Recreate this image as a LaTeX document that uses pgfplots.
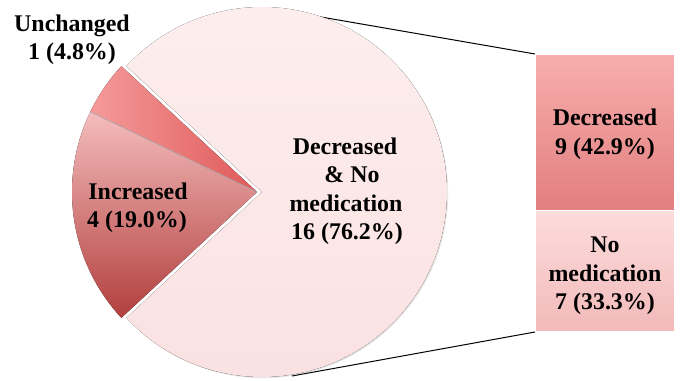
\documentclass[border=0pt]{standalone}
\usepackage{fontspec}
\setmainfont{Liberation Serif}
\usepackage{pgfplots}
\usepackage{pgfplotstable}
\pgfplotsset{compat=1.18}
\usetikzlibrary{shadows}

% pie of counts; the last slice is split in the bar on the right
\pgfplotstableread{
name count
Unchanged 1
Increased 4
DecreasedNoMed 16
}\pietable

\definecolor{bigTop}{HTML}{FDEEEE}
\definecolor{bigBot}{HTML}{FBE1E1}
\definecolor{incTop}{HTML}{F5BDBD}
\definecolor{incMid}{HTML}{E49696}
\definecolor{incBot}{HTML}{B13F3D}
\definecolor{uncOut}{HTML}{F59A9A}
\definecolor{uncIn}{HTML}{E05A5A}
\definecolor{decTop}{HTML}{F8AEAE}
\definecolor{decBot}{HTML}{E27E7E}
\definecolor{nomTop}{HTML}{FDDCDC}
\definecolor{nomBot}{HTML}{F2B9B9}

\newcommand{\lbl}{\fontsize{24}{28}\selectfont\bfseries}

\begin{document}
\begin{tikzpicture}
% slice angles from the counts
\pgfplotstablegetelem{0}{count}\of\pietable\pgfmathsetmacro\nU{\pgfplotsretval}
\pgfplotstablegetelem{1}{count}\of\pietable\pgfmathsetmacro\nI{\pgfplotsretval}
\pgfplotstablegetelem{2}{count}\of\pietable\pgfmathsetmacro\nR{\pgfplotsretval}
\pgfmathsetmacro\tot{\nU+\nI+\nR}
\pgfmathsetmacro\dg{360/\tot}
\pgfmathsetmacro\aA{180-(\nU+\nI)*\dg/2}
\pgfmathsetmacro\aB{\aA+\nU*\dg}
\pgfmathsetmacro\aC{\aB+\nI*\dg}
\pgfmathsetmacro\aD{\aC+\nR*\dg}

% stacked bar: No medication (bottom), Decreased (top)
\begin{axis}[at={(535bp,49bp)}, anchor=south west,
  width=140bp, height=278bp, scale only axis, hide axis,
  xmin=0, xmax=1, ymin=0, ymax=16, clip=false,
  ybar stacked, bar width=140bp]
\addplot[draw=white, line width=1.5pt, top color=nomTop, bottom color=nomBot]
  coordinates {(0.5,7)};
\addplot[draw=white, line width=1.5pt, top color=decTop, bottom color=decBot]
  coordinates {(0.5,9)};
\end{axis}

\begin{axis}[at={(0,0)}, anchor=south west,
  width=682bp, height=381bp, scale only axis, hide axis,
  xmin=0, xmax=682, ymin=0, ymax=381, clip=false]

% connector lines to the bar
\draw[black, line width=1pt] (axis cs:292,369) -- (axis cs:535,327);
\draw[black, line width=1pt] (axis cs:292,5) -- (axis cs:535,49);

% Decreased & No medication (pulled slightly to the right)
\fill[top color=bigTop, bottom color=bigBot,
  drop shadow={opacity=0.2, shadow xshift=1.2pt, shadow yshift=-1.2pt}]
  (axis cs:262,189) -- ++(\aC:185bp)
  arc[start angle=\aC, end angle=\aD, radius=185bp] -- cycle;
% Increased
\fill[top color=incTop, middle color=incMid, bottom color=incBot]
  (axis cs:257,189) -- ++(\aB:185bp)
  arc[start angle=\aB, end angle=\aC, radius=185bp] -- cycle;
% Unchanged
\fill[left color=uncOut, right color=uncIn]
  (axis cs:257,189) -- ++(\aA:185bp)
  arc[start angle=\aA, end angle=\aB, radius=185bp] -- cycle;
\draw[gray!60, line width=0.6pt] (axis cs:257,189) -- ++(\aB:185bp);

% labels
\node[anchor=base, font=\lbl] at (axis cs:72,349) {Unchanged};
\node[anchor=base, font=\lbl] at (axis cs:72,321) {1 (4.8\%)};
\node[anchor=base, font=\lbl] at (axis cs:138,181) {Increased};
\node[anchor=base, font=\lbl] at (axis cs:137,153) {4 (19.0\%)};
\node[anchor=base, font=\lbl] at (axis cs:345,226) {Decreased};
\node[anchor=base, font=\lbl] at (axis cs:352,198) {\& No};
\node[anchor=base, font=\lbl] at (axis cs:346,169) {medication};
\node[anchor=base, font=\lbl] at (axis cs:347,141) {16 (76.2\%)};
\node[anchor=base, font=\lbl] at (axis cs:605,255) {Decreased};
\node[anchor=base, font=\lbl] at (axis cs:605,226) {9 (42.9\%)};
\node[anchor=base, font=\lbl] at (axis cs:605,128) {No};
\node[anchor=base, font=\lbl] at (axis cs:605,99) {medication};
\node[anchor=base, font=\lbl] at (axis cs:605,71) {7 (33.3\%)};
\end{axis}
\pgfresetboundingbox
\useasboundingbox (0,0) rectangle (682bp,381bp);
\end{tikzpicture}
\end{document}
